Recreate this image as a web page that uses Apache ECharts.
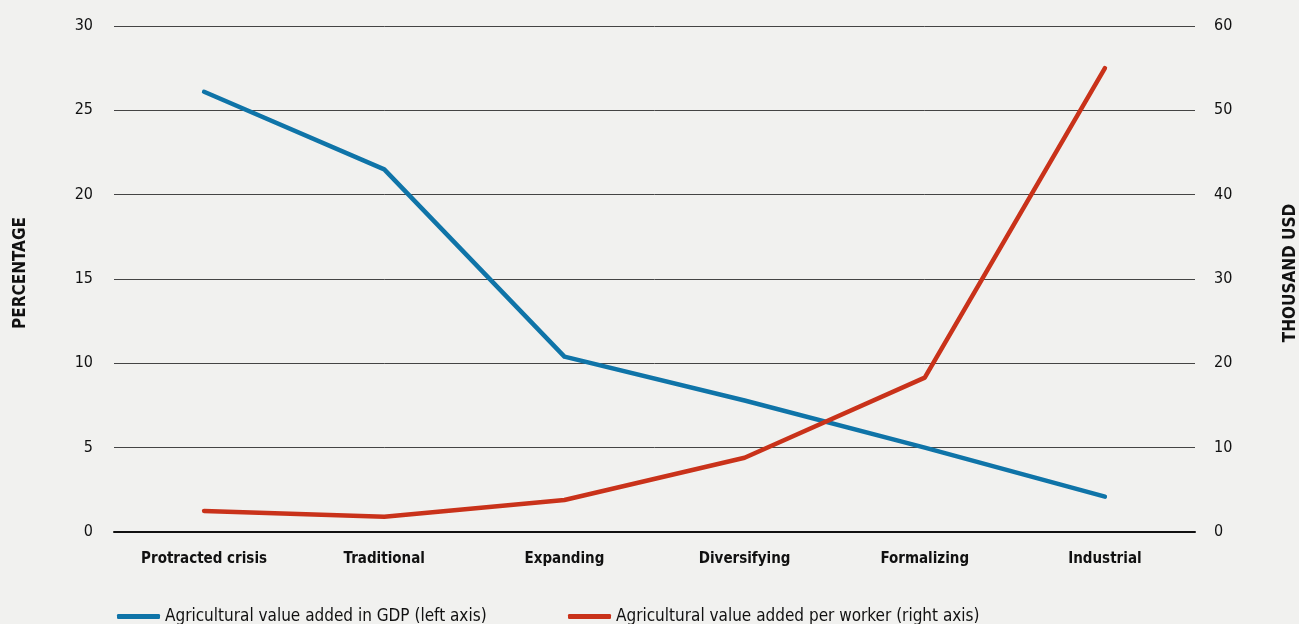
<!DOCTYPE html>
<html>
<head>
<meta charset="utf-8">
<script src="https://cdn.jsdelivr.net/npm/echarts@6/dist/echarts.min.js"></script>
<style>
html,body{margin:0;padding:0;background:#f1f1ef;overflow:hidden;width:1299px;height:624px;}
#c{width:1299px;height:624px;}
</style>
</head>
<body>
<div id="c"></div>
<script>
const categories = ["Protracted crisis","Traditional","Expanding","Diversifying","Formalizing","Industrial"];
const gdpShare = [26.1, 21.5, 10.4, 7.8, 5.0, 2.1];
const perWorker = [2.5, 1.8, 3.8, 8.8, 18.3, 55.0];
const leftTicks = [0, 5, 10, 15, 20, 25, 30];
const rightTicks = [0, 10, 20, 30, 40, 50, 60];
const seriesNames = ["Agricultural value added in GDP (left axis)", "Agricultural value added per worker (right axis)"];

const FONT = '"Liberation Sans Narrow", "DejaVu Sans Condensed", "Roboto", sans-serif';
const BLUE = '#0f74a8';
const RED = '#c9321a';

const chart = echarts.init(document.getElementById('c'), null, {renderer:'canvas', width:1299, height:624});
chart.setOption({
  backgroundColor: '#f1f1ef',
  animation: false,
  textStyle: {fontFamily: FONT},
  grid: {left: 114, right: 104, top: 26, bottom: 92, containLabel: false, outerBoundsMode: 'none'},
  legend: [
    {
      data: [seriesNames[0]], left: 112, top: 603,
      itemWidth: 43, itemHeight: 5, itemGap: 10,
      icon: 'roundRect',
      textStyle: {fontFamily: FONT, fontSize: 17, color: '#111'}
    },
    {
      data: [seriesNames[1]], left: 563, top: 603,
      itemWidth: 43, itemHeight: 5, itemGap: 10,
      icon: 'roundRect',
      textStyle: {fontFamily: FONT, fontSize: 17, color: '#111'}
    }
  ],
  xAxis: {
    type: 'category',
    data: categories,
    boundaryGap: true,
    axisLine: {show: true, lineStyle: {color: '#111', width: 2}},
    axisTick: {show: false},
    axisLabel: {fontFamily: FONT, fontSize: 15, fontWeight: 'bold', color: '#111', margin: 20, interval: 0}
  },
  yAxis: [
    {
      type: 'value', min: 0, max: 30, interval: 5,
      name: 'PERCENTAGE', nameLocation: 'middle', nameGap: 85, nameRotate: 90,
      nameTextStyle: {fontFamily: FONT, fontSize: 17, fontWeight: 'bold', color: '#111', padding: [0, 0, 0, 12]},
      axisLine: {show: false}, axisTick: {show: false},
      axisLabel: {fontFamily: FONT, fontSize: 16, color: '#111', margin: 21},
      splitLine: {show: true, lineStyle: {color: '#444', width: 1}}
    },
    {
      type: 'value', min: 0, max: 60, interval: 10, position: 'right',
      name: 'THOUSAND USD', nameLocation: 'middle', nameGap: 87, nameRotate: 90,
      nameTextStyle: {fontFamily: FONT, fontSize: 17, fontWeight: 'bold', color: '#111', padding: [0, 0, 0, 12]},
      axisLine: {show: false}, axisTick: {show: false},
      axisLabel: {fontFamily: FONT, fontSize: 16, color: '#111', margin: 19},
      splitLine: {show: false}
    }
  ],
  series: [
    {
      name: seriesNames[0], type: 'line', yAxisIndex: 0,
      data: gdpShare, symbol: 'none', color: BLUE,
      lineStyle: {color: BLUE, width: 4.5, cap: 'round', join: 'round'}
    },
    {
      name: seriesNames[1], type: 'line', yAxisIndex: 1,
      data: perWorker, symbol: 'none', color: RED,
      lineStyle: {color: RED, width: 4.5, cap: 'round', join: 'round'}
    }
  ]
});
</script>
</body>
</html>
